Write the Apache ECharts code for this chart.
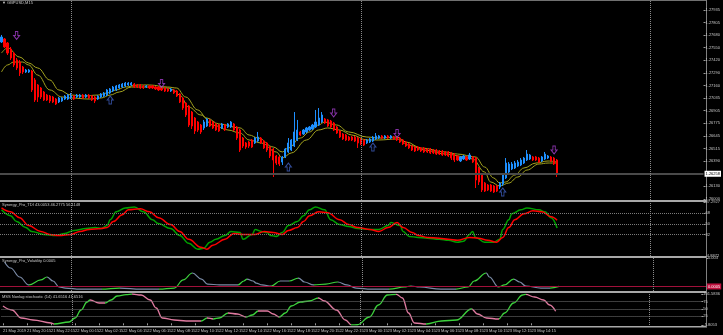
<!DOCTYPE html>
<html>
<head>
<meta charset="utf-8">
<script src="https://cdn.jsdelivr.net/npm/echarts@6/dist/echarts.min.js"></script>
<style>
html,body{margin:0;padding:0;background:#000;}
#c{width:723px;height:335px;}
</style>
</head>
<body>
<div id="c"></div>
<script>
// ---------- DATA ----------
const timeLabels = ["21 May 2019","21 May 20:15","21 May 22:15","22 May 00:15","22 May 02:15","22 May 04:15","22 May 06:15","22 May 08:15","22 May 10:15","22 May 12:15","22 May 14:15","22 May 16:15","22 May 18:15","22 May 20:15","22 May 22:15","23 May 00:15","23 May 02:15","23 May 04:15","23 May 06:15","23 May 08:15","23 May 10:15","23 May 12:15","23 May 14:15","23 May 16:15"];
const barCount = 233;            // visible bar slots incl. right shift
const daySeparators = [23, 119, 215];
const priceTicks = [1.26000,1.26130,1.26390,1.26515,1.26645,1.26775,1.26905,1.27035,1.27160,1.27290,1.27420,1.27550,1.27680,1.27805,1.27935];
const bidPrice = 1.26258;
const tdiTicks = [-4.8872, 32, 50, 68, 87.2927];
const tdiLevels = [68, 50, 32];
const volTicks = [0.003];
const volLevel = 0.0005;
const stochTicks = [-5.8053, 25, 50, 75, 101.5836];
const stochLevels = [75, 50, 25];

// candles: [open, close, low, high]
const candles = [
[1.27607,1.27658,1.27597,1.27679],[1.27638,1.27556,1.27546,1.27648],[1.27597,1.27494,1.27474,1.27607],[1.27535,1.27443,1.27423,1.27556],[1.27494,1.27372,1.27351,1.27505],
[1.27423,1.27341,1.27320,1.27443],[1.27402,1.27290,1.27259,1.27423],[1.27351,1.27300,1.27279,1.27361],[1.27300,1.27320,1.27290,1.27331],[1.27300,1.27320,1.27290,1.27331],
[1.27310,1.27116,1.27095,1.27320],[1.27218,1.27013,1.26993,1.27238],[1.27167,1.27044,1.26993,1.27177],[1.27136,1.27044,1.27023,1.27146],[1.27095,1.27013,1.27003,1.27105],
[1.27064,1.27013,1.27003,1.27075],[1.27054,1.27003,1.26982,1.27064],[1.27044,1.26993,1.26982,1.27054],[1.27023,1.26972,1.26962,1.27034],[1.26993,1.27034,1.26982,1.27044],
[1.27003,1.27034,1.26993,1.27044],[1.27023,1.27054,1.27013,1.27064],[1.27023,1.27064,1.27013,1.27075],[1.27034,1.27064,1.27023,1.27085],[1.27054,1.27023,1.27013,1.27064],
[1.27044,1.27064,1.27034,1.27075],[1.27044,1.27064,1.27034,1.27075],[1.27064,1.27034,1.27023,1.27075],[1.27044,1.27064,1.27034,1.27075],[1.27064,1.27034,1.27023,1.27075],
[1.27054,1.27013,1.27003,1.27064],[1.27044,1.27003,1.26982,1.27054],[1.27023,1.27054,1.27013,1.27064],[1.27044,1.27075,1.27034,1.27085],[1.27054,1.27085,1.27044,1.27095],
[1.27064,1.27116,1.27054,1.27126],[1.27085,1.27126,1.27075,1.27136],[1.27105,1.27146,1.27095,1.27157],[1.27116,1.27157,1.27105,1.27167],[1.27136,1.27167,1.27126,1.27177],
[1.27146,1.27177,1.27136,1.27187],[1.27157,1.27187,1.27146,1.27197],[1.27167,1.27187,1.27157,1.27197],[1.27167,1.27187,1.27157,1.27197],[1.27177,1.27146,1.27136,1.27187],
[1.27167,1.27146,1.27136,1.27177],[1.27167,1.27136,1.27126,1.27177],[1.27157,1.27136,1.27126,1.27167],[1.27146,1.27157,1.27136,1.27167],[1.27157,1.27136,1.27126,1.27167],
[1.27157,1.27136,1.27126,1.27167],[1.27146,1.27126,1.27116,1.27157],[1.27146,1.27116,1.27105,1.27157],[1.27136,1.27116,1.27105,1.27146],[1.27136,1.27105,1.27095,1.27146],
[1.27126,1.27105,1.27095,1.27136],[1.27105,1.27126,1.27095,1.27136],[1.27116,1.27085,1.27075,1.27126],[1.27105,1.27054,1.27044,1.27116],[1.27075,1.26993,1.26982,1.27085],
[1.27034,1.26931,1.26911,1.27044],[1.26982,1.26860,1.26839,1.26993],[1.26952,1.26757,1.26737,1.26962],[1.26890,1.26747,1.26716,1.26901],[1.26829,1.26696,1.26665,1.26839],
[1.26788,1.26706,1.26686,1.26798],[1.26757,1.26686,1.26665,1.26768],[1.26727,1.26788,1.26706,1.26809],[1.26747,1.26819,1.26737,1.26829],[1.26809,1.26747,1.26737,1.26819],
[1.26788,1.26727,1.26716,1.26798],[1.26768,1.26706,1.26696,1.26778],[1.26757,1.26696,1.26686,1.26768],[1.26727,1.26768,1.26716,1.26778],[1.26757,1.26706,1.26696,1.26768],
[1.26737,1.26768,1.26727,1.26778],[1.26737,1.26788,1.26727,1.26798],[1.26768,1.26706,1.26696,1.26778],[1.26737,1.26624,1.26604,1.26747],[1.26706,1.26501,1.26481,1.26716],
[1.26624,1.26542,1.26522,1.26634],[1.26573,1.26532,1.26512,1.26583],[1.26583,1.26542,1.26522,1.26593],[1.26604,1.26532,1.26522,1.26614],[1.26573,1.26624,1.26563,1.26634],
[1.26593,1.26634,1.26583,1.26686],[1.26624,1.26573,1.26563,1.26634],[1.26593,1.26522,1.26512,1.26604],[1.26573,1.26501,1.26481,1.26583],[1.26532,1.26440,1.26419,1.26542],
[1.26512,1.26399,1.26225,1.26522],[1.26440,1.26368,1.26348,1.26450],[1.26430,1.26358,1.26337,1.26440],[1.26378,1.26430,1.26348,1.26440],[1.26430,1.26512,1.26419,1.26522],
[1.26481,1.26573,1.26471,1.26624],[1.26501,1.26604,1.26491,1.26614],[1.26542,1.26686,1.26532,1.26890],[1.26604,1.26706,1.26593,1.26809],[1.26686,1.26655,1.26645,1.26696],
[1.26665,1.26706,1.26655,1.26716],[1.26686,1.26727,1.26675,1.26737],[1.26706,1.26737,1.26696,1.26747],[1.26716,1.26757,1.26706,1.26768],[1.26737,1.26788,1.26727,1.26911],
[1.26757,1.26829,1.26747,1.26931],[1.26788,1.26860,1.26778,1.26890],[1.26819,1.26778,1.26768,1.26829],[1.26809,1.26747,1.26737,1.26819],[1.26798,1.26737,1.26727,1.26809],
[1.26778,1.26706,1.26696,1.26788],[1.26737,1.26675,1.26665,1.26747],[1.26696,1.26634,1.26624,1.26706],[1.26665,1.26614,1.26604,1.26675],[1.26655,1.26604,1.26593,1.26665],
[1.26634,1.26604,1.26593,1.26645],[1.26634,1.26604,1.26593,1.26645],[1.26634,1.26593,1.26583,1.26645],[1.26624,1.26573,1.26522,1.26634],[1.26614,1.26563,1.26552,1.26624],
[1.26604,1.26552,1.26542,1.26614],[1.26573,1.26604,1.26563,1.26614],[1.26583,1.26614,1.26573,1.26624],[1.26593,1.26634,1.26583,1.26645],[1.26614,1.26645,1.26604,1.26675],
[1.26624,1.26645,1.26614,1.26655],[1.26645,1.26624,1.26614,1.26655],[1.26624,1.26645,1.26614,1.26655],[1.26645,1.26624,1.26614,1.26655],[1.26624,1.26645,1.26614,1.26655],
[1.26634,1.26614,1.26604,1.26645],[1.26634,1.26604,1.26593,1.26645],[1.26624,1.26583,1.26573,1.26634],[1.26604,1.26563,1.26552,1.26614],[1.26583,1.26542,1.26532,1.26593],
[1.26563,1.26522,1.26512,1.26573],[1.26542,1.26501,1.26491,1.26552],[1.26532,1.26491,1.26481,1.26542],[1.26532,1.26501,1.26491,1.26542],[1.26522,1.26491,1.26481,1.26532],
[1.26522,1.26481,1.26471,1.26532],[1.26512,1.26481,1.26471,1.26522],[1.26512,1.26471,1.26460,1.26522],[1.26501,1.26471,1.26460,1.26512],[1.26501,1.26460,1.26450,1.26512],
[1.26491,1.26460,1.26450,1.26501],[1.26491,1.26450,1.26440,1.26501],[1.26481,1.26450,1.26440,1.26491],[1.26481,1.26440,1.26430,1.26491],[1.26471,1.26419,1.26399,1.26481],
[1.26460,1.26399,1.26378,1.26471],[1.26440,1.26399,1.26389,1.26450],[1.26389,1.26430,1.26378,1.26440],[1.26409,1.26440,1.26399,1.26450],[1.26430,1.26399,1.26389,1.26440],
[1.26409,1.26450,1.26399,1.26471],[1.26430,1.26378,1.26368,1.26440],[1.26419,1.26194,1.26112,1.26430],[1.26317,1.26174,1.26143,1.26327],[1.26245,1.26092,1.26071,1.26255],
[1.26163,1.26081,1.26071,1.26174],[1.26143,1.26092,1.26081,1.26153],[1.26143,1.26081,1.26071,1.26153],[1.26133,1.26071,1.26061,1.26143],[1.26133,1.26081,1.26071,1.26143],
[1.26122,1.26163,1.26102,1.26174],[1.26153,1.26245,1.26133,1.26255],[1.26215,1.26368,1.26204,1.26419],[1.26276,1.26358,1.26266,1.26378],[1.26307,1.26358,1.26296,1.26378],
[1.26317,1.26368,1.26307,1.26389],[1.26337,1.26378,1.26327,1.26399],[1.26348,1.26399,1.26337,1.26419],[1.26368,1.26419,1.26358,1.26430],[1.26399,1.26460,1.26389,1.26501],
[1.26409,1.26450,1.26399,1.26460],[1.26430,1.26399,1.26389,1.26440],[1.26430,1.26399,1.26389,1.26440],[1.26419,1.26378,1.26368,1.26430],[1.26389,1.26430,1.26378,1.26440],
[1.26409,1.26460,1.26399,1.26481],[1.26419,1.26440,1.26409,1.26450],[1.26430,1.26389,1.26378,1.26440],[1.26419,1.26358,1.26348,1.26430],[1.26399,1.26258,1.26225,1.26409]
];

// moving-average band (read at bar index)
const maHigh = [[0,1.27494],[2,1.27546],[6,1.27453],[9,1.27392],[12,1.27341],[16,1.27218],[19,1.27116],[23,1.27064],[27,1.27054],[32,1.27064],[35,1.27085],[38,1.27116],[41,1.27146],[45,1.27167],[49,1.27167],[55,1.27146],[58,1.27136],[61,1.27044],[65,1.26911],[68,1.26829],[72,1.26768],[79,1.26727],[82,1.26655],[85,1.26624],[90,1.26532],[93,1.26481],[95,1.26522],[99,1.26624],[102,1.26686],[105,1.26757],[107,1.26788],[111,1.26757],[115,1.26686],[121,1.26634],[125,1.26624],[131,1.26634],[134,1.26583],[139,1.26522],[147,1.26481],[151,1.26460],[157,1.26430],[160,1.26327],[163,1.26215],[165,1.26163],[167,1.26174],[170,1.26245],[173,1.26317],[177,1.26368],[181,1.26389],[184,1.26378]];
const maLow = [[0,1.27300],[2,1.27372],[4,1.27402],[7,1.27402],[9,1.27372],[12,1.27269],[16,1.27116],[20,1.27044],[23,1.27034],[29,1.27023],[33,1.27034],[36,1.27064],[39,1.27095],[43,1.27146],[48,1.27146],[55,1.27136],[57,1.27116],[59,1.27064],[62,1.26941],[66,1.26860],[70,1.26757],[75,1.26706],[79,1.26675],[82,1.26604],[86,1.26573],[91,1.26481],[93,1.26419],[96,1.26471],[101,1.26604],[105,1.26706],[108,1.26727],[112,1.26706],[116,1.26655],[121,1.26604],[125,1.26604],[131,1.26614],[135,1.26552],[140,1.26501],[147,1.26460],[154,1.26430],[156,1.26409],[160,1.26276],[162,1.26174],[165,1.26133],[168,1.26163],[171,1.26225],[174,1.26296],[178,1.26358],[181,1.26368],[184,1.26368]];

const arrowsDown = [[5,1.27674],[53,1.27182],[110,1.26880],[131,1.26670],[183,1.26501]];
const arrowsUp = [[36,1.27013],[95,1.26327],[123,1.26532],[166,1.26071]];

// Synergy_Pro_TDI
const tdiGreen = [[0,73.9],[3,63.8],[5,53.8],[8,43.7],[10,37.0],[14,32.0],[18,30.3],[21,33.7],[24,38.7],[28,42.0],[31,43.7],[33,42.0],[35,47.1],[36,57.1],[38,70.5],[41,77.2],[44,78.9],[47,70.5],[50,57.1],[52,50.4],[56,42.0],[59,30.3],[62,16.9],[65,6.8],[67,8.5],[69,18.6],[71,23.6],[74,30.3],[76,37.0],[79,35.3],[80,23.6],[83,32.0],[84,40.4],[86,37.0],[88,35.3],[89,30.3],[91,28.6],[93,35.3],[95,47.1],[98,53.8],[100,63.8],[102,73.9],[104,78.9],[107,73.9],[109,57.1],[112,48.7],[115,45.4],[118,42.0],[122,40.4],[125,40.4],[128,47.1],[129,52.1],[132,47.1],[133,37.0],[135,28.6],[138,26.9],[141,25.3],[145,23.6],[148,21.9],[151,18.6],[153,20.3],[155,32.0],[156,37.0],[157,26.9],[160,18.6],[163,18.6],[165,23.6],[166,40.4],[168,57.1],[169,67.2],[172,73.9],[174,77.2],[178,73.9],[180,70.5],[182,60.5],[184,43.0]];
const tdiRed = [[0,77.2],[3,70.5],[6,60.5],[9,47.1],[13,37.0],[16,32.0],[19,30.3],[23,32.0],[26,37.0],[29,40.4],[33,42.0],[35,43.7],[37,53.8],[40,65.5],[42,73.9],[46,75.6],[49,70.5],[52,60.5],[56,48.7],[59,37.0],[62,23.6],[66,10.2],[68,6.8],[70,13.6],[74,23.6],[77,33.7],[80,32.0],[84,32.0],[87,37.0],[90,35.3],[93,32.0],[95,38.7],[98,43.7],[100,53.8],[102,63.8],[105,70.5],[108,68.9],[112,57.1],[115,48.7],[118,43.7],[122,40.4],[125,37.0],[128,43.7],[131,52.1],[133,43.7],[136,35.3],[138,30.3],[141,26.9],[145,25.3],[148,23.6],[151,21.9],[155,26.9],[158,25.3],[161,21.9],[164,18.6],[166,26.9],[168,43.7],[170,57.1],[173,67.2],[176,72.2],[179,70.5],[182,62.1],[184,56.1]];

// Synergy_Pro_Volatility
const volatility = [[1,0.00265],[3,0.00212],[6,0.00133],[9,0.00063],[13,0.00107],[15,0.00133],[17,0.00098],[19,0.00045],[21,0.00036],[26,0.00027],[33,0.00027],[39,0.00036],[46,0.00027],[52,0.00027],[57,0.00036],[60,0.00107],[63,0.00168],[66,0.00115],[68,0.00071],[72,0.00063],[78,0.00063],[80,0.00098],[81,0.00115],[83,0.00098],[84,0.00080],[86,0.00063],[89,0.00054],[92,0.00098],[95,0.00098],[98,0.00124],[100,0.00089],[103,0.00063],[107,0.00071],[111,0.00089],[114,0.00063],[117,0.00036],[122,0.00027],[128,0.00027],[133,0.00045],[135,0.00054],[138,0.00045],[145,0.00027],[150,0.00027],[154,0.00045],[156,0.00098],[160,0.00168],[161,0.00133],[164,0.00045],[166,0.00063],[169,0.00115],[171,0.00089],[173,0.00054],[178,0.00036],[181,0.00036],[184,0.00050]];

// MSS Nonlag stochastic
const stochastic = [[0,60.0],[3,46.2],[6,18.5],[10,11.5],[16,1.2],[17,-2.3],[22,4.6],[24,18.5],[26,46.2],[28,73.9],[29,80.8],[32,70.4],[34,70.4],[36,80.8],[38,94.7],[41,99.5],[43,101.5],[46,98.1],[49,80.8],[51,53.1],[53,18.5],[57,11.5],[61,8.1],[66,8.1],[68,18.5],[70,15.0],[72,18.5],[75,35.8],[78,32.3],[81,21.9],[83,28.8],[85,42.7],[88,42.7],[90,32.3],[92,21.9],[94,35.8],[96,60.0],[99,73.9],[102,77.3],[105,87.7],[107,77.3],[111,46.2],[114,11.5],[116,-5.7],[118,-5.0],[122,21.9],[125,63.5],[128,98.1],[131,100.5],[133,87.7],[135,35.8],[137,1.2],[141,-2.3],[146,8.1],[151,11.5],[156,49.6],[158,32.3],[161,18.5],[165,15.0],[167,35.8],[170,70.4],[173,98.1],[174,100.0],[177,91.2],[180,80.8],[182,63.5],[184,41.65]];

// ---------- CHART ----------
const FONT = 'Liberation Sans';
const TXT = '#c8c8c8';
const categories = Array.from({length: barCount}, (_, i) => String(i));

function risingPieces(pts, color) {
  const pieces = [];
  for (let k = 0; k < pts.length - 1; k++) {
    if (pts[k + 1][1] > pts[k][1]) {
      const last = pieces[pieces.length - 1];
      if (last && last.lte === pts[k][0]) last.lte = pts[k + 1][0];
      else pieces.push({gte: pts[k][0], lte: pts[k + 1][0], color: color});
    }
  }
  return pieces;
}
const sepLine = {type: 'dotted', color: '#8a8a8a', width: 1};
const daySepMarks = daySeparators.map(i => ({xAxis: i, lineStyle: sepLine, label: {show: false}}));
const levelMarks = arr => arr.map(v => ({yAxis: v, lineStyle: {type: 'dotted', color: '#7a7a7a', width: 1}, label: {show: false}}));

const grids = [
  {left: 0, right: 17, top: 1, height: 199},
  {left: 0, right: 17, top: 202, height: 54},
  {left: 0, right: 17, top: 258, height: 33},
  {left: 0, right: 17, top: 294, height: 31}
];
const labelEvery = 8;
const xAxes = grids.map((g, k) => ({
  type: 'category', gridIndex: k, data: categories, boundaryGap: true,
  axisLine: {show: false},
  axisTick: k === 3 ? {show: true, alignWithLabel: true, length: 2, lineStyle: {color: '#9a9a9a'},
    interval: (idx) => idx % labelEvery === 0 && idx / labelEvery < timeLabels.length} : {show: false},
  axisLabel: k === 3 ? {show: true, fontSize: 4, fontFamily: FONT, color: TXT, align: 'left', margin: 4,
    interval: (idx) => idx % labelEvery === 0 && idx / labelEvery < timeLabels.length,
    formatter: (v, idx) => timeLabels[Math.round(idx / labelEvery)] || ''} : {show: false},
  splitLine: {show: false}
}));
function yAx(k, min, max, ticks, fmt) {
  return {
    type: 'value', gridIndex: k, position: 'right', min: min, max: max, scale: true,
    axisLine: {show: false},
    axisTick: {show: true, customValues: ticks, length: 2, lineStyle: {color: '#9a9a9a'}},
    axisLabel: {show: true, customValues: ticks, formatter: fmt, fontSize: 4, fontFamily: FONT, color: TXT, margin: 2},
    splitLine: {show: false}
  };
}
const numFmt = v => Number.isInteger(v) ? String(v) : v.toFixed(4);

const downArrow = 'path://M3,0 L7,0 L7,6 L10,6 L5,12 L0,6 L3,6 Z';
const upArrow = 'path://M5,0 L10,6 L7,6 L7,12 L3,12 L3,6 L0,6 Z';

const option = {
  backgroundColor: '#000000',
  animation: false,
  textStyle: {fontFamily: FONT},
  title: [
    {text: '\u25BC GBPUSD,M15', left: 2, top: 1},
    {text: 'Synergy_Pro_TDI 43.0053 46.2775 56.1148', left: 2, top: 203},
    {text: 'Synergy_Pro_Volatility 0.0005', left: 2, top: 259},
    {text: 'MSS Nonlag stochastic (14) 41.6516 41.6516', left: 2, top: 295}
  ].map(t => Object.assign(t, {padding: 0, textStyle: {fontSize: 4, fontWeight: 'normal', color: TXT, fontFamily: FONT}})),
  grid: grids,
  xAxis: xAxes,
  yAxis: [
    yAx(0, 1.259894, 1.280268, priceTicks, v => v.toFixed(5)),
    yAx(1, -4.8872, 87.2927, tdiTicks, numFmt),
    yAx(2, 0.0001, 0.003, volTicks, v => v.toFixed(3)),
    yAx(3, -5.8053, 101.5836, stochTicks, numFmt)
  ],
  visualMap: [
    {type: 'piecewise', show: false, seriesIndex: 7, dimension: 0, pieces: risingPieces(volatility, '#3cd23c'), outOfRange: {color: '#7a8aa6'}},
    {type: 'piecewise', show: false, seriesIndex: 8, dimension: 0, pieces: risingPieces(stochastic, '#3cd23c'), outOfRange: {color: '#e07aa0'}}
  ],
  graphic: [
    {type: 'rect', shape: {x: 0, y: 0, width: 707, height: 1}, style: {fill: '#707070'}, silent: true},
    {type: 'rect', shape: {x: 0, y: 200, width: 707, height: 2}, style: {fill: '#a8a8a8'}, silent: true},
    {type: 'rect', shape: {x: 0, y: 256, width: 707, height: 2}, style: {fill: '#a8a8a8'}, silent: true},
    {type: 'rect', shape: {x: 0, y: 291, width: 707, height: 2}, style: {fill: '#a8a8a8'}, silent: true},
    {type: 'rect', shape: {x: 0, y: 326, width: 707, height: 1.5}, style: {fill: '#a8a8a8'}, silent: true},
    {type: 'rect', shape: {x: 706, y: 0, width: 1, height: 327}, style: {fill: '#808080'}, silent: true}
  ],
  series: [
    {
      type: 'candlestick', xAxisIndex: 0, yAxisIndex: 0, data: candles, barWidth: 1.6,
      itemStyle: {color: '#1e90ff', color0: '#ff0000', borderColor: '#1e90ff', borderColor0: '#ff0000', borderWidth: 1},
      markLine: {
        silent: true, symbol: ['none', 'none'], animation: false, precision: 6,
        data: [
          {yAxis: bidPrice, lineStyle: {color: '#4a4a4a', width: 2, type: 'solid'},
           label: {show: true, position: 'end', distance: 1, formatter: bidPrice.toFixed(5), backgroundColor: '#ffffff', color: '#000000', fontSize: 4, fontFamily: FONT, padding: [1, 1]}}
        ].concat(daySepMarks)
      },
      z: 3
    },
    {type: 'line', xAxisIndex: 0, yAxisIndex: 0, data: maHigh, symbol: 'none', smooth: 0.4, smoothMonotone: 'x', lineStyle: {color: '#a3a31e', width: 1}, z: 2},
    {type: 'line', xAxisIndex: 0, yAxisIndex: 0, data: maLow, symbol: 'none', smooth: 0.4, smoothMonotone: 'x', lineStyle: {color: '#a3a31e', width: 1}, z: 2},
    {type: 'scatter', xAxisIndex: 0, yAxisIndex: 0, data: arrowsDown, symbol: downArrow, symbolSize: [6, 8],
     itemStyle: {color: 'rgba(0,0,0,0)', borderColor: '#a63fd0', borderWidth: 1}, z: 4},
    {type: 'scatter', xAxisIndex: 0, yAxisIndex: 0, data: arrowsUp, symbol: upArrow, symbolSize: [6, 8],
     itemStyle: {color: 'rgba(0,0,0,0)', borderColor: '#3f5fc0', borderWidth: 1}, z: 4},
    {type: 'line', xAxisIndex: 1, yAxisIndex: 1, data: tdiGreen, symbol: 'none', smooth: 0.4, smoothMonotone: 'x', lineStyle: {color: '#00a000', width: 1.5},
     markLine: {silent: true, symbol: ['none', 'none'], precision: 6, data: levelMarks(tdiLevels).concat(daySepMarks)}},
    {type: 'line', xAxisIndex: 1, yAxisIndex: 1, data: tdiRed, symbol: 'none', smooth: 0.4, smoothMonotone: 'x', lineStyle: {color: '#ff0000', width: 1.5}},
    {type: 'line', xAxisIndex: 2, yAxisIndex: 2, data: volatility, symbol: 'none', smooth: 0.4, smoothMonotone: 'x', lineStyle: {width: 1.2},
     markLine: {silent: true, symbol: ['none', 'none'], precision: 6, data: [
       {yAxis: volLevel, lineStyle: {color: '#a0103a', width: 1, type: 'solid'},
        label: {show: true, position: 'end', distance: 1, formatter: volLevel.toFixed(4), backgroundColor: '#c0103e', color: '#ffffff', fontSize: 4, fontFamily: FONT, padding: [1, 1]}}
     ].concat(daySepMarks)}},
    {type: 'line', xAxisIndex: 3, yAxisIndex: 3, data: stochastic, symbol: 'none', smooth: 0.4, smoothMonotone: 'x', lineStyle: {width: 1.3},
     markLine: {silent: true, symbol: ['none', 'none'], precision: 6, data: levelMarks(stochLevels).concat(daySepMarks)}}
  ]
};
const chart = echarts.init(document.getElementById('c'), null, {renderer: 'canvas'});
chart.setOption(option);
</script>
</body>
</html>
